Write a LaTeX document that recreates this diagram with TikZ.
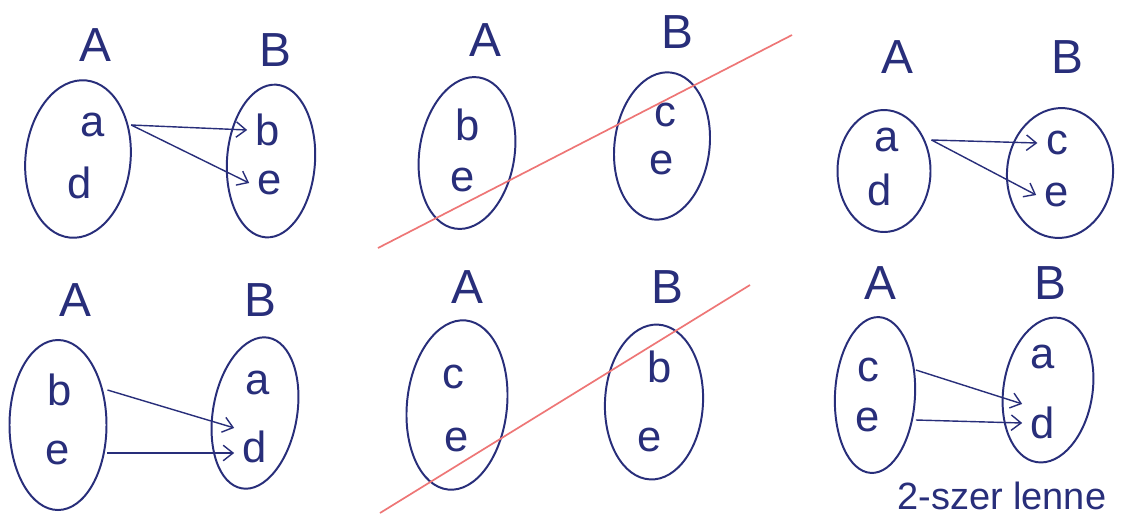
\documentclass[tikz,border=0pt]{standalone}
\usepackage{fontspec}
\setmainfont{Liberation Sans}
\usetikzlibrary{positioning, shapes.geometric, arrows.meta}
\definecolor{ink}{RGB}{40,46,122}
\definecolor{redpen}{RGB}{238,118,118}
\tikzset{
  setbox/.style 2 args={draw=ink, ellipse, line width=1.4pt, inner sep=0pt,
    minimum width=#1*0.025cm, minimum height=#2*0.025cm},
  elem/.style={text=ink, font=\fontsize{31}{34}\selectfont, inner sep=2pt, inner xsep=6pt},
  setname/.style={text=ink, font=\fontsize{34}{36}\selectfont, inner sep=0pt},
  map/.style={draw=ink, line width=1pt, -{Straight Barb[length=7pt, width=11pt]}},
  strike/.style={draw=redpen, line width=1.2pt}
}
\begin{document}
\begin{tikzpicture}[x=0.025cm, y=-0.025cm]
\useasboundingbox (0,0) rectangle (1124,516);
\fill[white] (0,0) rectangle (1124,516);

\node[setname] (A1) at (95,45) {A};
\node[setname] (B1) at (275,50) {B};
\node[setbox={105}{158}, rotate=-6] (SA1) at (78,159) {};
\node[setbox={88}{153}, rotate=-4] (SB1) at (271,161) {};
\node[elem] (a1) at (93,125) {a};
\node[elem] (d1) at (80,183) {d};
\node[elem] (b1) at (268,130) {b};
\node[elem] (e1) at (270,183) {e};
\draw[map] (SA1.east |- a1) -- (b1.west);
\draw[map] (SA1.east |- a1) -- (e1.west);

\node[setname] (A2) at (485,40) {A};
\node[setname] (B2) at (677,32) {B};
\node[setbox={95}{153}, rotate=-9] (SA2) at (467,153) {};
\node[setbox={95}{148}, rotate=-7] (SB2) at (662,146) {};
\node[elem] (b2) at (468,125) {b};
\node[elem] (e2) at (463,180) {e};
\node[elem] (c2) at (665,115) {c};
\node[elem] (f2) at (662,163) {e};
\coordinate (s2a) at (378,248);
\coordinate (s2b) at (792,35);
\draw[strike] (s2a) -- (s2b);

\node[setname] (A3) at (897,57) {A};
\node[setname] (B3) at (1067,57) {B};
\node[setbox={93}{122}] (SA3) at (884,171) {};
\node[setbox={106}{130}, rotate=-4] (SB3) at (1060,173) {};
\node[elem] (a3) at (887,140) {a};
\node[elem] (d3) at (880,190) {d};
\node[elem] (c3) at (1057,143) {c};
\node[elem] (e3) at (1057,195) {e};
\draw[map] (SA3.east |- a3) -- (c3.west);
\draw[map] (SA3.east |- a3) -- (e3.west);

\node[setname] (A4) at (75,300) {A};
\node[setname] (B4) at (260,300) {B};
\node[setbox={97}{170}] (SA4) at (58,425) {};
\node[setbox={84}{153}, rotate=-10] (SB4) at (255,413) {};
\node[elem] (b4) at (60,390) {b};
\node[elem] (e4) at (58,453) {e};
\node[elem] (a4) at (258,383) {a};
\node[elem] (d4) at (255,447) {d};
\draw[map] (SA4.east |- b4) -- (d4.north west);
\draw[map] (SA4.east |- e4) -- (d4.west |- e4);

\node[setname] (A5) at (467,287) {A};
\node[setname] (B5) at (667,287) {B};
\node[setbox={100}{170}, rotate=-6] (SA5) at (457,405) {};
\node[setbox={98}{155}, rotate=-3] (SB5) at (654,402) {};
\node[elem] (c5) at (453,377) {c};
\node[elem] (e5) at (457,440) {e};
\node[elem] (b5) at (660,367) {b};
\node[elem] (f5) at (650,440) {e};
\coordinate (s5a) at (380,513);
\coordinate (s5b) at (750,285);
\draw[strike] (s5a) -- (s5b);

\node[setname] (A6) at (880,283) {A};
\node[setname] (B6) at (1050,283) {B};
\node[setbox={80}{156}, rotate=-3] (SA6) at (875,395) {};
\node[setbox={89}{146}, rotate=-9] (SB6) at (1048,390) {};
\node[elem] (c6) at (868,370) {c};
\node[elem] (e6) at (868,420) {e};
\node[elem] (a6) at (1043,357) {a};
\node[elem] (d6) at (1043,423) {d};
\draw[map] (SA6.east |- c6) -- (d6.north west);
\draw[map] (SA6.east |- e6) -- (d6.west);

\node[text=ink, font=\fontsize{27}{29}\selectfont, anchor=base west, inner sep=0pt] (note) at (897,509) {2-szer lenne};
\end{tikzpicture}
\end{document}
